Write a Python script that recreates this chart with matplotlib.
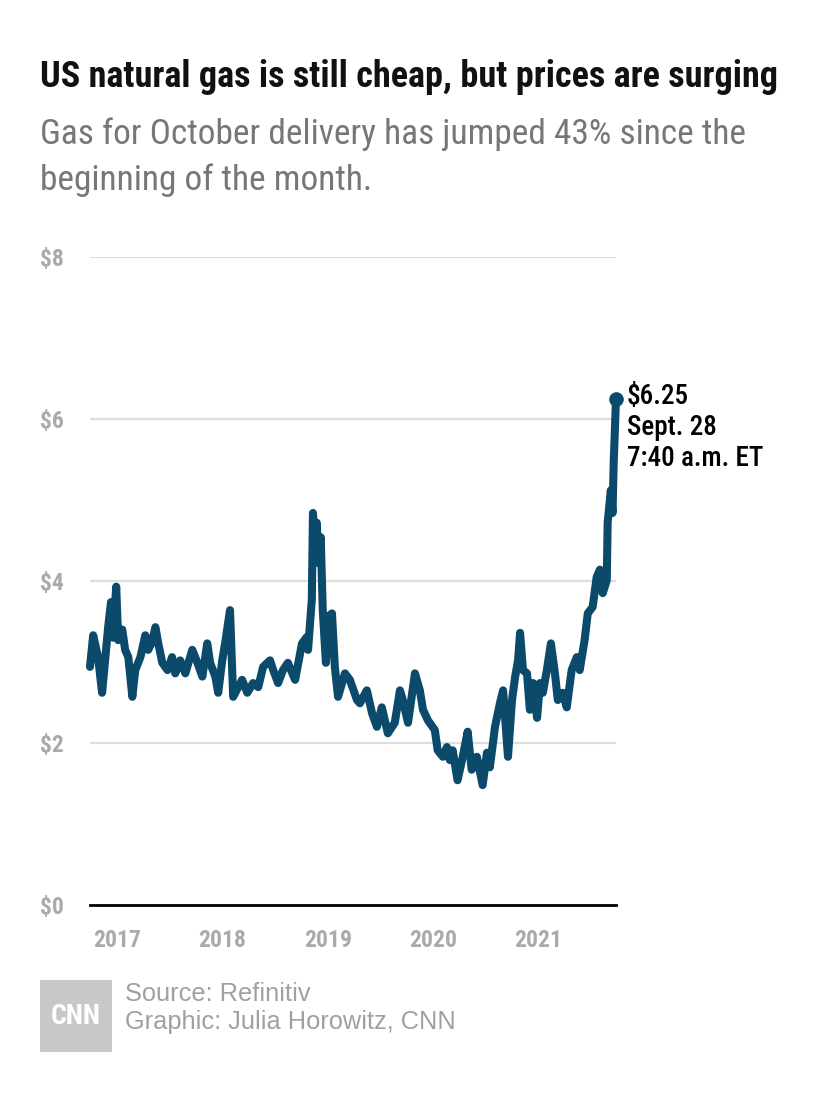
import numpy as np
import pandas as pd
import matplotlib
matplotlib.use("Agg")
import matplotlib.pyplot as plt
from matplotlib.patches import Rectangle

# Henry Hub front-month
dates = [
    "2016-09-28", "2016-10-09", "2016-10-26", "2016-11-09", "2016-11-30", "2016-12-10",
    "2016-12-17", "2016-12-28", "2017-01-04", "2017-01-18", "2017-01-28", "2017-02-08",
    "2017-02-22", "2017-03-04", "2017-03-22", "2017-04-08", "2017-04-18", "2017-05-02",
    "2017-05-13", "2017-05-23", "2017-06-06", "2017-06-24", "2017-07-10", "2017-07-21",
    "2017-08-07", "2017-08-25", "2017-09-18", "2017-10-06", "2017-10-23", "2017-11-09",
    "2017-11-19", "2017-12-07", "2017-12-17", "2017-12-31", "2018-01-10", "2018-01-27",
    "2018-02-07", "2018-03-10", "2018-03-28", "2018-04-17", "2018-05-05", "2018-05-22",
    "2018-06-15", "2018-06-26", "2018-07-13", "2018-07-30", "2018-08-16", "2018-09-10",
    "2018-10-04", "2018-10-21", "2018-10-25", "2018-11-07", "2018-11-11", "2018-11-21",
    "2018-11-24", "2018-12-01", "2018-12-08", "2018-12-15", "2018-12-26", "2019-01-02",
    "2019-01-16", "2019-01-26", "2019-02-06", "2019-03-02", "2019-03-19", "2019-04-13",
    "2019-04-23", "2019-05-17", "2019-06-04", "2019-06-21", "2019-07-08", "2019-07-29",
    "2019-08-22", "2019-09-09", "2019-09-19", "2019-10-07", "2019-10-31", "2019-11-17",
    "2019-11-28", "2019-12-15", "2020-01-08", "2020-01-18", "2020-02-05", "2020-02-19",
    "2020-02-29", "2020-03-10", "2020-03-27", "2020-04-14", "2020-05-01", "2020-05-15",
    "2020-06-02", "2020-06-22", "2020-07-07", "2020-07-17", "2020-08-04", "2020-08-21",
    "2020-09-01", "2020-09-18", "2020-10-02", "2020-10-13", "2020-10-23", "2020-10-30",
    "2020-11-09", "2020-11-23", "2020-12-03", "2020-12-14", "2020-12-28", "2021-01-07",
    "2021-01-17", "2021-01-31", "2021-02-14", "2021-02-28", "2021-03-10", "2021-03-27",
    "2021-04-10", "2021-04-27", "2021-05-15", "2021-05-25", "2021-06-11", "2021-06-22",
    "2021-07-09", "2021-07-23", "2021-08-03", "2021-08-13", "2021-08-27", "2021-08-30",
    "2021-09-10", "2021-09-16", "2021-09-20", "2021-09-28",
]
prices = [
    2.94, 3.33, 3.06, 2.62, 3.43, 3.74,
    3.30, 3.93, 3.27, 3.40, 3.15, 3.06,
    2.57, 2.90, 3.06, 3.33, 3.15, 3.25,
    3.43, 3.23, 2.99, 2.90, 3.06, 2.86,
    3.02, 2.86, 3.15, 2.99, 2.82, 3.23,
    2.99, 2.82, 2.62, 3.02, 3.23, 3.64,
    2.57, 2.78, 2.62, 2.74, 2.69, 2.94,
    3.02, 2.90, 2.74, 2.90, 2.99, 2.78,
    3.23, 3.31, 3.15, 3.77, 4.84, 4.26,
    4.72, 4.22, 4.54, 3.64, 2.99, 3.56,
    3.60, 2.94, 2.57, 2.86, 2.78, 2.53,
    2.49, 2.65, 2.37, 2.20, 2.44, 2.12,
    2.25, 2.65, 2.53, 2.25, 2.86, 2.65,
    2.41, 2.28, 2.16, 1.91, 1.83, 1.95,
    1.79, 1.91, 1.54, 1.83, 2.14, 1.67,
    1.83, 1.48, 1.88, 1.70, 2.20, 2.49,
    2.65, 1.83, 2.53, 2.82, 3.02, 3.36,
    2.90, 2.86, 2.41, 2.74, 2.31, 2.74,
    2.62, 2.90, 3.23, 2.86, 2.53, 2.62,
    2.44, 2.90, 3.06, 2.90, 3.27, 3.60,
    3.68, 4.05, 4.14, 3.85, 4.01, 4.72,
    5.12, 4.84, 5.46, 6.25,
]
y_ticks = [0, 2, 4, 6, 8]
y_labels = ["$0", "$2", "$4", "$6", "$8"]
x_years = [2017, 2018, 2019, 2020, 2021]
last_label = ["$6.25", "Sept. 28", "7:40 a.m. ET"]

title = "US natural gas is still cheap, but prices are surging"
subtitle = ["Gas for October delivery has jumped 43% since the",
            "beginning of the month."]
credits = ["Source: Refinitiv", "Graphic: Julia Horowitz, CNN"]

W, H = 830, 1102
LINE = "#0b4a6b"
GRAY = "#aaaaaa"
NARROW = ["Roboto Condensed", "Barlow Semi Condensed", "Archivo Narrow",
          "Asap Condensed", "DejaVu Sans"]
REG = ["Liberation Sans", "DejaVu Sans"]

d = pd.to_datetime(dates)


def px(x, y):
    return x / W, 1 - y / H


fig = plt.figure(figsize=(W / 100, H / 100), dpi=100)
fig.patch.set_facecolor("white")

left, right, top, bottom = 90, 616, 257, 905
ax = fig.add_axes([left / W, 1 - bottom / H, (right - left) / W, (bottom - top) / H])
ax.set_xlim(d[0], d[-1])
ax.set_ylim(0, 8)
for s in ax.spines.values():
    s.set_visible(False)

for v in y_ticks[1:]:
    ax.axhline(v, color="#dddddd", lw=1.6, zorder=1)
ax.axhline(0, color="black", lw=2, zorder=2, clip_on=False)

ax.plot(d, prices, color=LINE, lw=5.8, solid_joinstyle="round",
        solid_capstyle="round", zorder=3, clip_on=False)
ax.plot(d[-1], prices[-1], "o", color=LINE, ms=9.5, zorder=4, clip_on=False)

ax.set_yticks(y_ticks)
ax.set_yticklabels(y_labels)
ax.tick_params(axis="y", length=0, pad=36)
for t in ax.get_yticklabels():
    t.set_fontfamily(NARROW)
    t.set_fontsize(17)
    t.set_fontweight("bold")
    t.set_color(GRAY)
    t.set_horizontalalignment("left")

ax.set_xticks([pd.Timestamp(f"{y}-01-01") for y in x_years])
ax.set_xticklabels([str(y) for y in x_years])
ax.tick_params(axis="x", length=0, pad=17)
for t in ax.get_xticklabels():
    t.set_fontfamily(NARROW)
    t.set_fontsize(17)
    t.set_fontweight("bold")
    t.set_color(GRAY)

# annotation for latest price
ax.annotate("\n".join(last_label), xy=(d[-1], prices[-1]), xytext=(8, 11),
            textcoords="offset points", ha="left", va="top",
            fontsize=19.5, family=NARROW, fontweight="medium", color="black",
            linespacing=1.17)

# title block
fig.text(*px(40, 77), title, fontsize=26, fontweight="bold", family=NARROW,
         color="#111111", va="center", ha="left")
fig.text(*px(40, 134), subtitle[0], fontsize=25.5, family=NARROW,
         color="#777777", va="center", ha="left")
fig.text(*px(40, 180), subtitle[1], fontsize=25.5, family=NARROW,
         color="#777777", va="center", ha="left")

# footer
fig.patches.append(Rectangle(px(40, 1052), 72 / W, 72 / H, transform=fig.transFigure,
                             facecolor="#c8c8c8", edgecolor="none"))
fig.text(*px(76, 1017), "CNN", fontsize=20, fontweight="bold", family=NARROW,
         color="white", ha="center", va="center")
fig.text(*px(125, 994), credits[0], fontsize=18.3, family=REG, color="#a0a0a0",
         va="center", ha="left")
fig.text(*px(125, 1022), credits[1], fontsize=18.3, family=REG, color="#a0a0a0",
         va="center", ha="left")

fig.savefig("out.png", dpi=100, facecolor="white")
